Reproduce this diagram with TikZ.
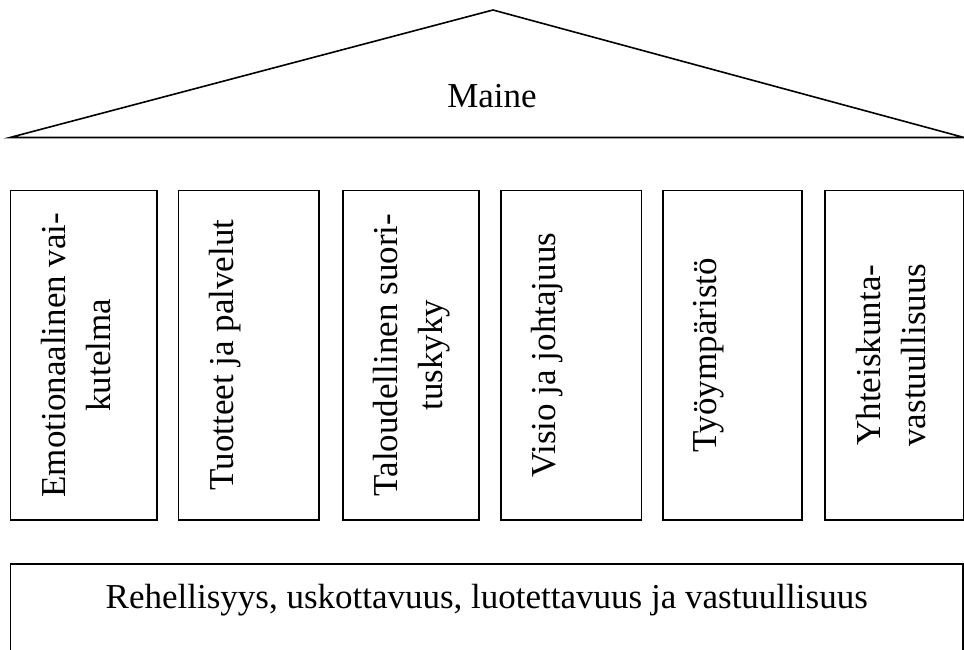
\documentclass[tikz,border=0pt]{standalone}
\usepackage{fontspec}
\setmainfont{Liberation Serif}
\usepackage{amsmath}

\begin{document}
\begin{tikzpicture}[x=1pt,y=-1pt,line width=1.6pt,
	font=\fontsize{35}{45}\selectfont]
	
	% 画布大小 (图像坐标, y 向下)
	\useasboundingbox (0,0) rectangle (964,650);
	\clip (0,0) rectangle (964,650);
	
	% 定义柱子的参数
	\def\ptop{190.3} % 柱子上边
	\def\pbot{520} % 柱子下边
	\pgfmathsetmacro{\pmid}{(\ptop+\pbot)/2} % 柱子中心高度
	
	% 绘制屋顶
	\coordinate (L) at (10,137.5); % 屋顶左角
	\coordinate (T) at (493,10); % 屋顶顶点
	\coordinate (R) at (964,137.5); % 屋顶右角
	\draw (L) -- (T) -- (R) -- cycle; % 三角形屋顶
	\node[anchor=base] (maine) at (492,108) {Maine}; % 屋顶文字
	
	% 绘制六根柱子
	\foreach \i/\l/\r/\txt in {
		1/10.5/157/{Emotionaalinen vai-\\kutelma},
		2/178.3/319/{Tuotteet ja palvelut},
		3/342.7/479/{Taloudellinen suori-\\tuskyky},
		4/500.7/641.3/{Visio ja johtajuus},
		5/662.7/801.7/{Työympäristö},
		6/825/963.3/{Yhteiskunta-\\vastuullisuus}}
	{
		\node[draw,inner sep=0,minimum width={(\r-\l)*1pt},
			minimum height={(\pbot-\ptop)*1pt}] (p\i) at ({(\l+\r)/2},\pmid) {}; % 柱子
		\node[rotate=90,anchor=north,inner sep=0,align=center] (t\i)
			at ([xshift=31pt]p\i.west) {\txt}; % 柱子文字 (竖排)
	}
	
	% 绘制地基
	\node[draw,inner sep=0,minimum width=952.5pt,minimum height=136pt]
		(base) at (486.75,632) {}; % 地基 (下边超出画布)
	\node[anchor=base] (baset) at (486.75,608)
		{Rehellisyys, uskottavuus, luotettavuus ja vastuullisuus}; % 地基文字
	
\end{tikzpicture}
\end{document}
